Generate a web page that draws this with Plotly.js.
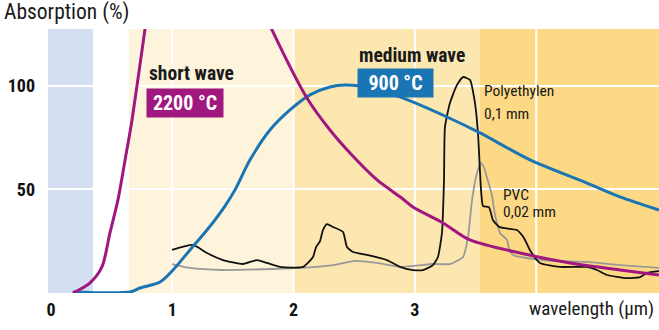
<!DOCTYPE html>
<html>
<head>
<meta charset="utf-8">
<script src="https://cdn.plot.ly/plotly-3.0.1.min.js"></script>
<style>html,body{margin:0;padding:0;background:#fff;}#chart{width:659px;height:330px;}</style>
</head>
<body>
<div id="chart"></div>
<script>
// ---- data ----
// short wave emitter 2200 °C (rising flank, then falling flank; peak is off the chart)
const shortX1 = [0.18, 0.32, 0.42, 0.486, 0.552, 0.61, 0.668, 0.775, 0.816];
const shortY1 = [0, 4.8, 12.6, 29, 45, 64, 83.6, 127.5, 144];
const shortX2 = [1.77, 1.822, 2.110, 2.300, 2.465, 2.688, 2.877, 2.984, 3.232, 3.454, 3.866, 4.279, 4.691, 5.012];
const shortY2 = [134, 127.1, 94.2, 78.7, 67.6, 54.6, 46.5, 41.5, 33.8, 25.6, 19.3, 14.5, 11.1, 8.7];

// medium wave emitter 900 °C
const mediumX = [0.18, 0.651, 0.734, 0.899, 1.006, 1.146, 1.286, 1.434, 1.517, 1.641, 1.805, 1.970, 2.135, 2.300, 2.424, 2.60, 2.877, 3.265, 3.537, 3.949, 4.419, 4.691, 5.012];
const mediumY = [0.5, 0.5, 2.4, 5.3, 11.1, 20.8, 30.4, 42, 49.8, 64.3, 78.7, 88.4, 95.7, 99.5, 100.5, 99.5, 94.7, 85.0, 77.3, 64.3, 53.1, 46.4, 40.1];

// Polyethylen 0,1 mm
const peX = [0.998, 1.171, 1.286, 1.418, 1.583, 1.698, 1.781, 1.888, 2.077, 2.160, 2.185, 2.218, 2.242, 2.275, 2.325, 2.407, 2.440, 2.490, 2.605, 2.770, 2.877, 2.984, 3.067, 3.149, 3.190, 3.223, 3.240, 3.248, 3.289, 3.347, 3.397, 3.454, 3.495, 3.520, 3.545, 3.562, 3.610, 3.645, 3.700, 3.840, 3.900, 3.950, 4.031, 4.196, 4.419, 4.501, 4.584, 4.749, 4.856, 4.913, 5.012];
const peY = [20.8, 23.2, 19.3, 15.9, 14.0, 15.9, 14.5, 12.6, 12.6, 17.4, 22.2, 25.1, 30.4, 33.3, 31.9, 29.5, 22.2, 19.8, 18.4, 15.9, 12.6, 11.1, 11.1, 13.5, 17.4, 29.0, 54.6, 80.2, 91.8, 100.5, 104.3, 102.9, 91.8, 77.3, 50.0, 42.0, 41.5, 35.0, 31.8, 30.4, 26.5, 20.5, 14.5, 12.6, 12.6, 11.1, 8.7, 7.2, 7.7, 9.7, 10.6];

// PVC 0,02 mm
const pvcX = [0.998, 1.146, 1.418, 1.830, 2.053, 2.325, 2.506, 2.688, 2.877, 3.149, 3.289, 3.397, 3.438, 3.471, 3.512, 3.545, 3.570, 3.600, 3.635, 3.660, 3.702, 3.760, 3.775, 3.810, 3.920, 4.138, 4.419, 4.691, 5.012];
const pvcY = [14.0, 12.1, 11.1, 11.6, 12.1, 13.5, 15.5, 14.5, 12.6, 14.0, 14.0, 17.4, 27.1, 44.9, 58.0, 62.8, 60.5, 54.6, 47.3, 38.0, 29.0, 25.6, 21.7, 18.4, 16.9, 15.5, 15.0, 13.5, 12.1];

// background wavelength bands
const bandStart = [-0.03, 0.643, 2.0, 3.537];
const bandEnd   = [0.346, 2.0, 3.537, 5.05];
const bandColor = ['#d4dff2', '#fef3db', '#fde7b0', '#fdd985'];

// axis ticks
const xTickVals = [0, 1, 2, 3];
const xTickText = ['0', '1', '2', '3'];
const xGrid = [1, 2, 3, 4];
const yTickVals = [50, 100];
const yTickText = ['50', '100'];

// ---- chart ----
const MAG = '#a0177f';
const BLUE = '#1a75b4';
const FONT = '"Roboto Condensed", "Liberation Sans Narrow", Roboto, sans-serif';

const shapes = [];
for (let i = 0; i < bandStart.length; i++) {
  shapes.push({type: 'rect', layer: 'below', xref: 'x', yref: 'paper',
    x0: bandStart[i], x1: bandEnd[i], y0: 0, y1: 1, fillcolor: bandColor[i], line: {width: 0}});
}
for (const g of xGrid) {
  shapes.push({type: 'line', layer: 'below', xref: 'x', yref: 'paper',
    x0: g, x1: g, y0: 0, y1: 1, line: {color: '#ffffff', width: 2}});
}

const traces = [
  {x: pvcX, y: pvcY, mode: 'lines', line: {color: '#999999', width: 1.8, shape: 'spline', smoothing: 0.5}},
  {x: peX, y: peY, mode: 'lines', line: {color: '#111111', width: 1.8, shape: 'spline', smoothing: 0.5}},
  {x: mediumX, y: mediumY, mode: 'lines', line: {color: BLUE, width: 3, shape: 'spline', smoothing: 0.8}},
  {x: shortX1.concat([null], shortX2), y: shortY1.concat([null], shortY2), mode: 'lines', connectgaps: false,
   line: {color: MAG, width: 3, shape: 'spline', smoothing: 0.8}}
];

const annotations = [
  {xref: 'paper', yref: 'paper', x: -0.0736, y: 1.064, xanchor: 'left', yanchor: 'middle', showarrow: false,
   text: 'Absorption (%)', font: {family: FONT, size: 21.5, color: '#1a1a1a'}, borderpad: 0},
  {xref: 'paper', yref: 'paper', x: 0.9935, y: -0.058, xanchor: 'right', yanchor: 'middle', showarrow: false,
   text: 'wavelength (µm)', font: {family: FONT, size: 19, color: '#1a1a1a'}, borderpad: 0},
  {xref: 'x', yref: 'y', x: 0.80, y: 105.8, xanchor: 'left', yanchor: 'middle', showarrow: false,
   text: 'short wave', font: {family: FONT, size: 19.5, color: '#1a1a1a', weight: 'bold'}, borderpad: 0},
  {xref: 'x', yref: 'y', x: 1.105, y: 91.8, xanchor: 'center', yanchor: 'middle', showarrow: false,
   text: '2200 °C', font: {family: FONT, size: 20, color: '#ffffff', weight: 'bold'},
   bgcolor: MAG, width: 76, height: 28, borderpad: 0},
  {xref: 'x', yref: 'y', x: 2.531, y: 114.5, xanchor: 'left', yanchor: 'middle', showarrow: false,
   text: 'medium wave', font: {family: FONT, size: 19.5, color: '#1a1a1a', weight: 'bold'}, borderpad: 0},
  {xref: 'x', yref: 'y', x: 2.84, y: 101.4, xanchor: 'center', yanchor: 'middle', showarrow: false,
   text: '900 °C', font: {family: FONT, size: 20, color: '#ffffff', weight: 'bold'},
   bgcolor: BLUE, width: 75, height: 28, borderpad: 0},
  {xref: 'x', yref: 'y', x: 3.561, y: 97.5, xanchor: 'left', yanchor: 'middle', showarrow: false,
   text: 'Polyethylen', font: {family: FONT, size: 15.5, color: '#1a1a1a'}, borderpad: 0},
  {xref: 'x', yref: 'y', x: 3.561, y: 86.5, xanchor: 'left', yanchor: 'middle', showarrow: false,
   text: '0,1 mm', font: {family: FONT, size: 15.5, color: '#1a1a1a'}, borderpad: 0},
  {xref: 'x', yref: 'y', x: 3.718, y: 47.5, xanchor: 'left', yanchor: 'middle', showarrow: false,
   text: 'PVC', font: {family: FONT, size: 15.5, color: '#1a1a1a'}, borderpad: 0},
  {xref: 'x', yref: 'y', x: 3.718, y: 39.3, xanchor: 'left', yanchor: 'middle', showarrow: false,
   text: '0,02 mm', font: {family: FONT, size: 15.5, color: '#1a1a1a'}, borderpad: 0}
];

const layout = {
  width: 659, height: 330,
  margin: {l: 48, r: 0, t: 29, b: 37, pad: 0},
  paper_bgcolor: '#ffffff', plot_bgcolor: '#ffffff',
  showlegend: false, hovermode: false,
  xaxis: {range: [-0.0247, 5.0124], tickmode: 'array', tickvals: xTickVals, ticktext: xTickText,
    showgrid: false, zeroline: false, showline: false, ticks: '', ticklabelstandoff: 4,
    tickfont: {family: FONT, size: 18, color: '#111111', weight: 'bold'}},
  yaxis: {range: [0, 127.5], tickmode: 'array', tickvals: yTickVals, ticktext: yTickText,
    showgrid: true, gridcolor: '#ffffff', gridwidth: 2, zeroline: false, showline: false, ticks: '',
    ticklabelstandoff: 12,
    tickfont: {family: FONT, size: 18, color: '#111111', weight: 'bold'}},
  shapes: shapes,
  annotations: annotations
};

Plotly.newPlot('chart', traces, layout, {staticPlot: true, displayModeBar: false});
</script>
</body>
</html>
